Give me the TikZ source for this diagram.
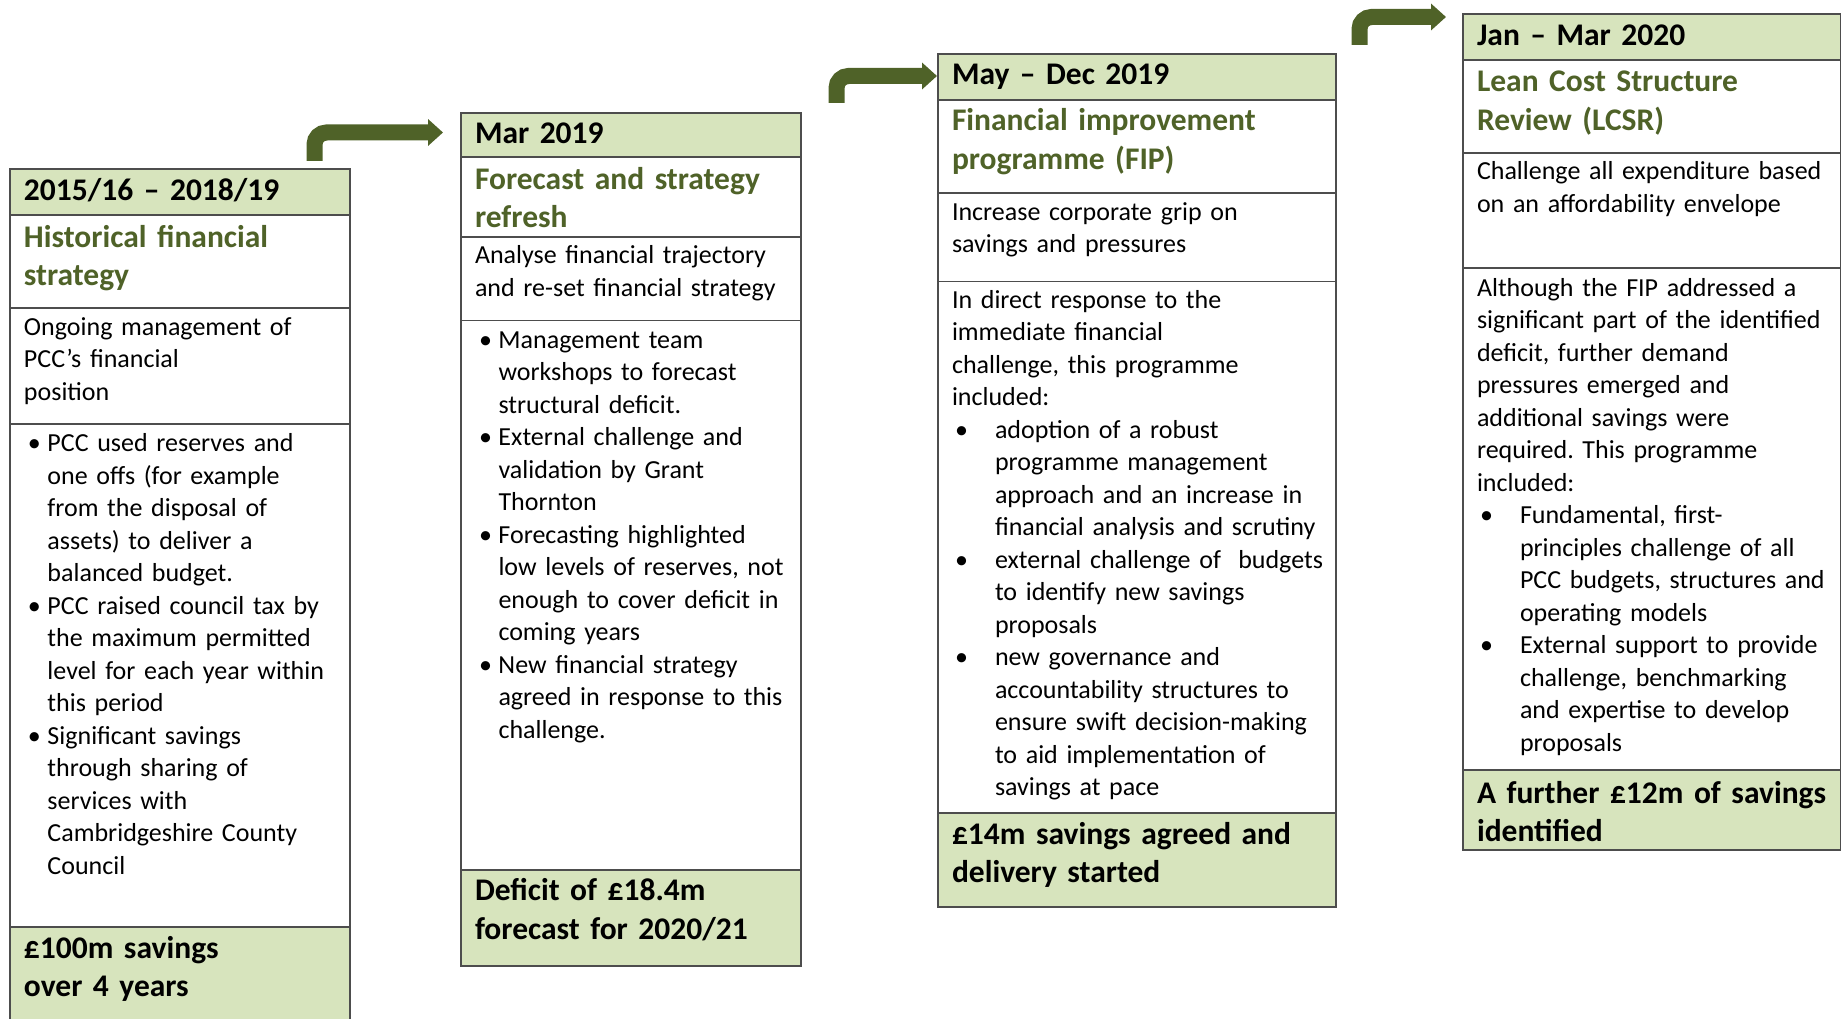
\documentclass[tikz,border=0pt]{standalone}
\usepackage{fontspec}
\setmainfont{Carlito}
\usepackage{xcolor}
\usepackage{tikz}
\usetikzlibrary{arrows.meta,positioning}
\definecolor{finGreen}{HTML}{D7E4BD}
\definecolor{finOlive}{HTML}{4F6228}
\definecolor{finLine}{HTML}{4D4D4D}
\newcommand{\hdfont}{\fontsize{31.5pt}{38.5pt}\selectfont\bfseries}
\newcommand{\txfont}{\fontsize{26pt}{32.5pt}\selectfont}
% narrow and wide bullets (hanging indent)
\newcommand{\nbul}{\hangindent=23.5pt\hangafter=1\makebox[23.5pt][l]{\hspace{4pt}\textbullet}\ignorespaces}
\newcommand{\wbul}{\hangindent=43pt\hangafter=1\makebox[43pt][l]{\hspace{3pt}\textbullet}\ignorespaces}
\frenchspacing

\begin{document}
\begin{tikzpicture}[
    x=1pt, y=-1pt,
    cell/.style={draw=finLine, line width=1.1pt, anchor=north west, outer sep=0pt,
                 inner xsep=6pt, inner ysep=0pt,
                 execute at begin node={\raggedright\leftskip=8pt\let\\\newline\frenchspacing\relax}},
    sz/.style 2 args={text height=#1, text depth=#2},
    head/.style={cell, fill=finGreen, font=\hdfont},
    aim/.style={cell, fill=white, font=\hdfont, text=finOlive},
    brief/.style={cell, fill=white, font=\txfont},
    detail/.style={cell, fill=white, font=\txfont},
    outcome/.style={cell, fill=finGreen, font=\hdfont},
    flow/.style={draw=finOlive, line width=16pt, rounded corners=12pt,
                 -{Triangle[width=26pt,length=15pt]}},
  ]
  \useasboundingbox (0,0) rectangle (1841,1019);

  % 2015/16 - 2018/19
  \begin{scope}[every node/.append style={text width=328pt}]
  \node[head, sz={31.5pt}{14.5pt}] (h1) at (10,169) {2015/16 – 2018/19};
  \node[aim, sz={32pt}{61pt}] (a1) at (h1.south west) {Historical financial\\strategy};
  \node[brief, sz={27pt}{89pt}] (b1) at (a1.south west)
    {Ongoing management of\\PCC’s financial\\position};
  \node[detail, sz={27.5pt}{475.5pt}] (d1) at (b1.south west)
    {\nbul PCC used reserves and\\one offs (for example\\from the disposal of\\assets) to deliver a\\balanced budget.
     \par\nbul PCC raised council tax by\\the maximum permitted\\level for each year within\\this period
     \par\nbul Significant savings\\through sharing of\\services with\\Cambridgeshire County\\Council\par};
  \node[outcome, sz={31pt}{72pt}] (o1) at (d1.south west) {£100m savings\\over 4 years};
  \end{scope}

  % Mar 2019
  \begin{scope}[every node/.append style={text width=328pt}]
  \node[head, sz={31pt}{13pt}] (h2) at (461,113) {Mar 2019};
  \node[aim, sz={32.5pt}{47.5pt}] (a2) at (h2.south west) {Forecast and strategy\\refresh};
  \node[brief, sz={26.5pt}{57pt}] (b2) at (a2.south west)
    {Analyse financial trajectory\\and re-set financial strategy};
  \node[detail, sz={27.5pt}{522pt}] (d2) at (b2.south west)
    {\nbul Management team\\workshops to forecast\\structural deficit.
     \par\nbul External challenge and\\validation by Grant\\Thornton
     \par\nbul Forecasting highlighted\\low levels of reserves, not\\enough to cover deficit in\\coming years
     \par\nbul New financial strategy\\agreed in response to this\\challenge.\par};
  \node[outcome, sz={30.5pt}{65.5pt}] (o2) at (d2.south west) {Deficit of £18.4m\\forecast for 2020/21};
  \end{scope}

  % May - Dec 2019
  \begin{scope}[every node/.append style={text width=386pt}]
  \node[head, sz={30.5pt}{15.5pt}] (h3) at (938,54) {May – Dec 2019};
  \node[aim, sz={31pt}{62pt}] (a3) at (h3.south west) {Financial improvement\\programme (FIP)};
  \node[brief, sz={27pt}{61.5pt}] (b3) at (a3.south west)
    {Increase corporate grip on\\savings and pressures};
  \node[detail, sz={26.5pt}{505pt}] (d3) at (b3.south west)
    {In direct response to the\\immediate financial\\challenge, this programme\\included:
     \par\wbul adoption of a robust\\programme management\\approach and an increase in\\financial analysis and scrutiny
     \par\wbul external challenge of\ \ budgets\\to identify new savings\\proposals
     \par\wbul new governance and\\accountability structures to\\ensure swift decision-making\\to aid implementation of\\savings at pace\par};
  \node[outcome, sz={31pt}{63pt}] (o3) at (d3.south west) {£14m savings agreed and\\delivery started};
  \end{scope}

  % Jan - Mar 2020
  \begin{scope}[every node/.append style={text width=366pt}]
  \node[head, sz={31.5pt}{14.5pt}] (h4) at (1463,14) {Jan – Mar 2020};
  \node[aim, sz={32pt}{61pt}] (a4) at (h4.south west) {Lean Cost Structure\\Review (LCSR)};
  \node[brief, sz={27pt}{88pt}] (b4) at (a4.south west)
    {Challenge all expenditure based\\on an affordability envelope};
  \node[detail, sz={28pt}{474pt}] (d4) at (b4.south west)
    {Although the FIP addressed a\\significant part of the identified\\deficit, further demand\\pressures emerged and\\additional savings were\\required. This programme\\included:
     \par\wbul Fundamental, first-\\principles challenge of all\\PCC budgets, structures and\\operating models
     \par\wbul External support to provide\\challenge, benchmarking\\and expertise to develop\\proposals\par};
  \node[outcome, sz={33pt}{47pt}] (o4) at (d4.south west) {A further £12m of savings\\identified};
  \end{scope}

  \draw[flow] ([xshift=-35.5pt,yshift=8pt]h1.north east) |- ([xshift=-18pt,yshift=2.5pt]h2.west);
  \draw[flow] ([xshift=35.5pt,yshift=10pt]h2.north east) |- ([xshift=-1pt,yshift=1pt]h3.west);
  \draw[flow] ([xshift=23.5pt,yshift=9pt]h3.north east) |- ([xshift=-17pt,yshift=20pt]h4.west);

\end{tikzpicture}
\end{document}
